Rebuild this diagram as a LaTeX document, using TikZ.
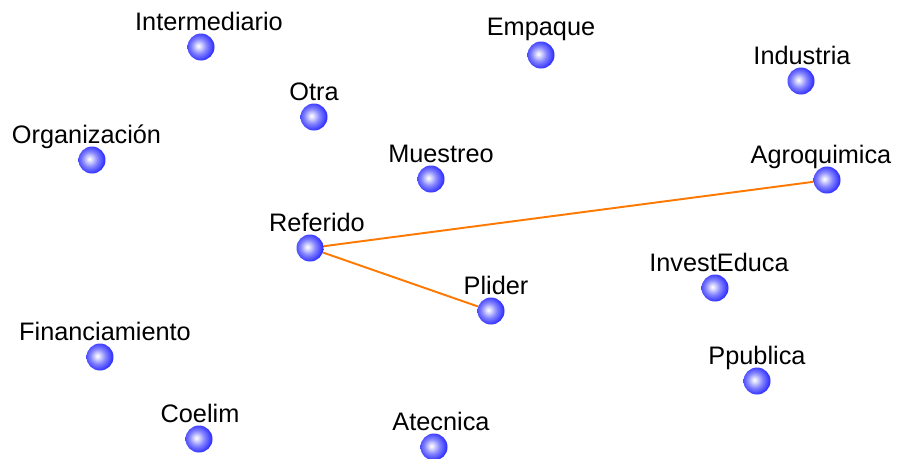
\documentclass[tikz,border=0pt]{standalone}
\usepackage{fontspec}
\setmainfont{Liberation Sans}
\usetikzlibrary{positioning}
\pgfdeclareradialshading{actorball}{\pgfpoint{-5bp}{2bp}}{%
  color(0bp)=(white); color(4bp)=(blue!12!white);
  color(14bp)=(blue!48!white); color(26bp)=(blue!80!white); color(36bp)=(blue); color(70bp)=(blue)}
\tikzset{
	actor/.style={circle, minimum size=0.54cm, inner sep=0pt, shading=actorball},
	every label/.style={anchor=base, inner sep=0pt, yshift=0.06cm,
		font=\fontsize{14.4}{17}\selectfont},
	tie/.style={draw=orange!95!red, line width=1.1pt}}

\begin{document}
\begin{tikzpicture}[x=0.02cm, y=-0.02cm]
		\useasboundingbox (0,0) rectangle (898,458);
		
		\node[actor, label={[xshift=0.16cm]above:Intermediario}] (interm) at (201,47) {};
		\node[actor, label={[yshift=0.06cm]above:Empaque}] (empaque) at (541,55) {};
		\node[actor, label={[xshift=0.02cm]above:Industria}] (industria) at (801,81) {};
		\node[actor, label={above:Otra}] (otra) at (314,117) {};
		\node[actor, label={[xshift=-0.11cm]above:Organización}] (organiz) at (92,160) {};
		\node[actor, label={[xshift=0.2cm]above:Muestreo}] (muestreo) at (431,179) {};
		\node[actor, label={[xshift=-0.12cm]above:Agroquimica}] (agroq) at (827,180) {};
		\node[actor, label={[xshift=0.14cm]above:Referido}] (referido) at (310,248) {};
		\node[actor, label={[xshift=0.08cm]above:InvestEduca}] (invested) at (715,288) {};
		\node[actor, label={[xshift=0.1cm]above:Plider}] (plider) at (491,311) {};
		\node[actor, label={[xshift=0.1cm]above:Financiamiento}] (financ) at (100,357) {};
		\node[actor, label={above:Ppublica}] (ppublica) at (757,381) {};
		\node[actor, label={[xshift=0.02cm]above:Coelim}] (coelim) at (199,439) {};
		\node[actor, label={[xshift=0.14cm]above:Atecnica}] (atecnica) at (434,447) {};
		
		\draw[tie] (referido) -- (agroq);
		\draw[tie] (referido) -- (plider);
		
\end{tikzpicture}
\end{document}
